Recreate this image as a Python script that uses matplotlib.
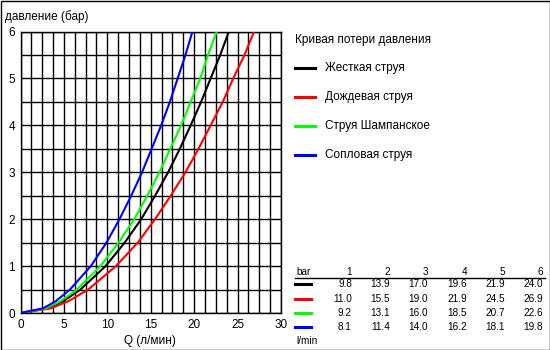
import numpy as np
import matplotlib.pyplot as plt
from matplotlib.ticker import MultipleLocator
from matplotlib.patches import Rectangle

plt.rcParams['font.family'] = ['Liberation Sans', 'DejaVu Sans']

# pressure levels (bar) and flow Q (l/min)
p_curve = [0, 0.1, 0.25, 0.5, 1, 1.5, 2, 2.5, 3, 3.5, 4, 4.5, 5, 5.5, 6]
q_black = [0, 3.1, 4.9, 6.9, 9.8, 12.0, 13.9, 15.5, 17.0, 18.35, 19.6, 20.8, 21.9, 23.0, 24.0]
q_red = [0, 3.5, 5.5, 7.8, 11.0, 13.5, 15.5, 17.3, 19.0, 20.5, 21.9, 23.3, 24.5, 25.8, 26.9]
q_green = [0, 2.9, 4.6, 6.5, 9.2, 11.3, 13.1, 14.6, 16.0, 17.25, 18.5, 19.6, 20.7, 21.6, 22.6]
q_blue = [0, 2.6, 4.05, 5.7, 8.1, 9.9, 11.4, 12.75, 14.0, 15.1, 16.2, 17.2, 18.1, 19.0, 19.8]

series_names = ['Жесткая струя', 'Дождевая струя', 'Струя Шампанское', 'Сопловая струя']
series_colors = ['#000000', '#ff0000', '#00ff00', '#0000ff']

# table values
table_bar = [1, 2, 3, 4, 5, 6]
table_rows = [
    [9.8, 13.9, 17.0, 19.6, 21.9, 24.0],
    [11.0, 15.5, 19.0, 21.9, 24.5, 26.9],
    [9.2, 13.1, 16.0, 18.5, 20.7, 22.6],
    [8.1, 11.4, 14.0, 16.2, 18.1, 19.8],
]

W, H = 550, 350
fig = plt.figure(figsize=(W / 100, H / 100), dpi=100)

def px(x, y):
    return x / W, 1 - y / H

left, right, top, bottom = 20.5, 281, 31.5, 313
ax = fig.add_axes([left / W, 1 - bottom / H, (right - left) / W, (bottom - top) / H])

for q, c in zip([q_black, q_red, q_green, q_blue], series_colors):
    ax.plot(q, p_curve, color=c, lw=1.5, zorder=3)

ax.set_xlim(0, 30)
ax.set_ylim(0, 6)
ax.xaxis.set_major_locator(MultipleLocator(5))
ax.xaxis.set_minor_locator(MultipleLocator(1.25))
ax.yaxis.set_major_locator(MultipleLocator(1))
ax.yaxis.set_minor_locator(MultipleLocator(0.5))
ax.grid(which='both', color='black', lw=1.0)
ax.tick_params(which='both', length=0, labelsize=8.5, pad=4)
for s in ax.spines.values():
    s.set_linewidth(1.0)

fig.text(*px(5, 17), 'давление (бар)', fontsize=8.5, va='center', ha='left')
fig.text(*px(150, 341), 'Q (л/мин)', fontsize=8.5, va='center', ha='center')

# legend
fig.text(*px(295, 40), 'Кривая потери давления', fontsize=8.5, va='center')
leg_y = [68, 97, 126, 155]
for name, c, y in zip(series_names, series_colors, leg_y):
    fig.add_artist(plt.Line2D([295 / W, 315 / W], [1 - y / H] * 2, color=c, lw=2.2))
    fig.text(*px(325, y), name, fontsize=8.5, va='center')

# table
col_x = [352, 390, 428, 467, 505, 543]
fs = 7.2
fig.text(*px(296, 272), 'bar', fontsize=fs, va='center')
for b, x in zip(table_bar, col_x):
    fig.text(*px(x, 272), str(b), fontsize=fs, va='center', ha='right')
fig.add_artist(plt.Line2D([295 / W, 545 / W], [1 - 278 / H] * 2, color='black', lw=1.0))
row_y = [284, 299, 313, 327]
for row, c, y in zip(table_rows, series_colors, row_y):
    fig.add_artist(plt.Line2D([295 / W, 311 / W], [1 - y / H] * 2, color=c, lw=2.2))
    for v, x in zip(row, col_x):
        fig.text(*px(x, y), f'{v:.1f}', fontsize=fs, va='center', ha='right')
fig.text(*px(296, 341), 'l/min', fontsize=fs, va='center')

fig.add_artist(Rectangle((0.5 / W, 0.5 / H), (W - 1) / W, (H - 1) / H, transform=fig.transFigure,
                         fill=False, edgecolor='black', lw=1.0))

fig.savefig('out.png', dpi=100)
